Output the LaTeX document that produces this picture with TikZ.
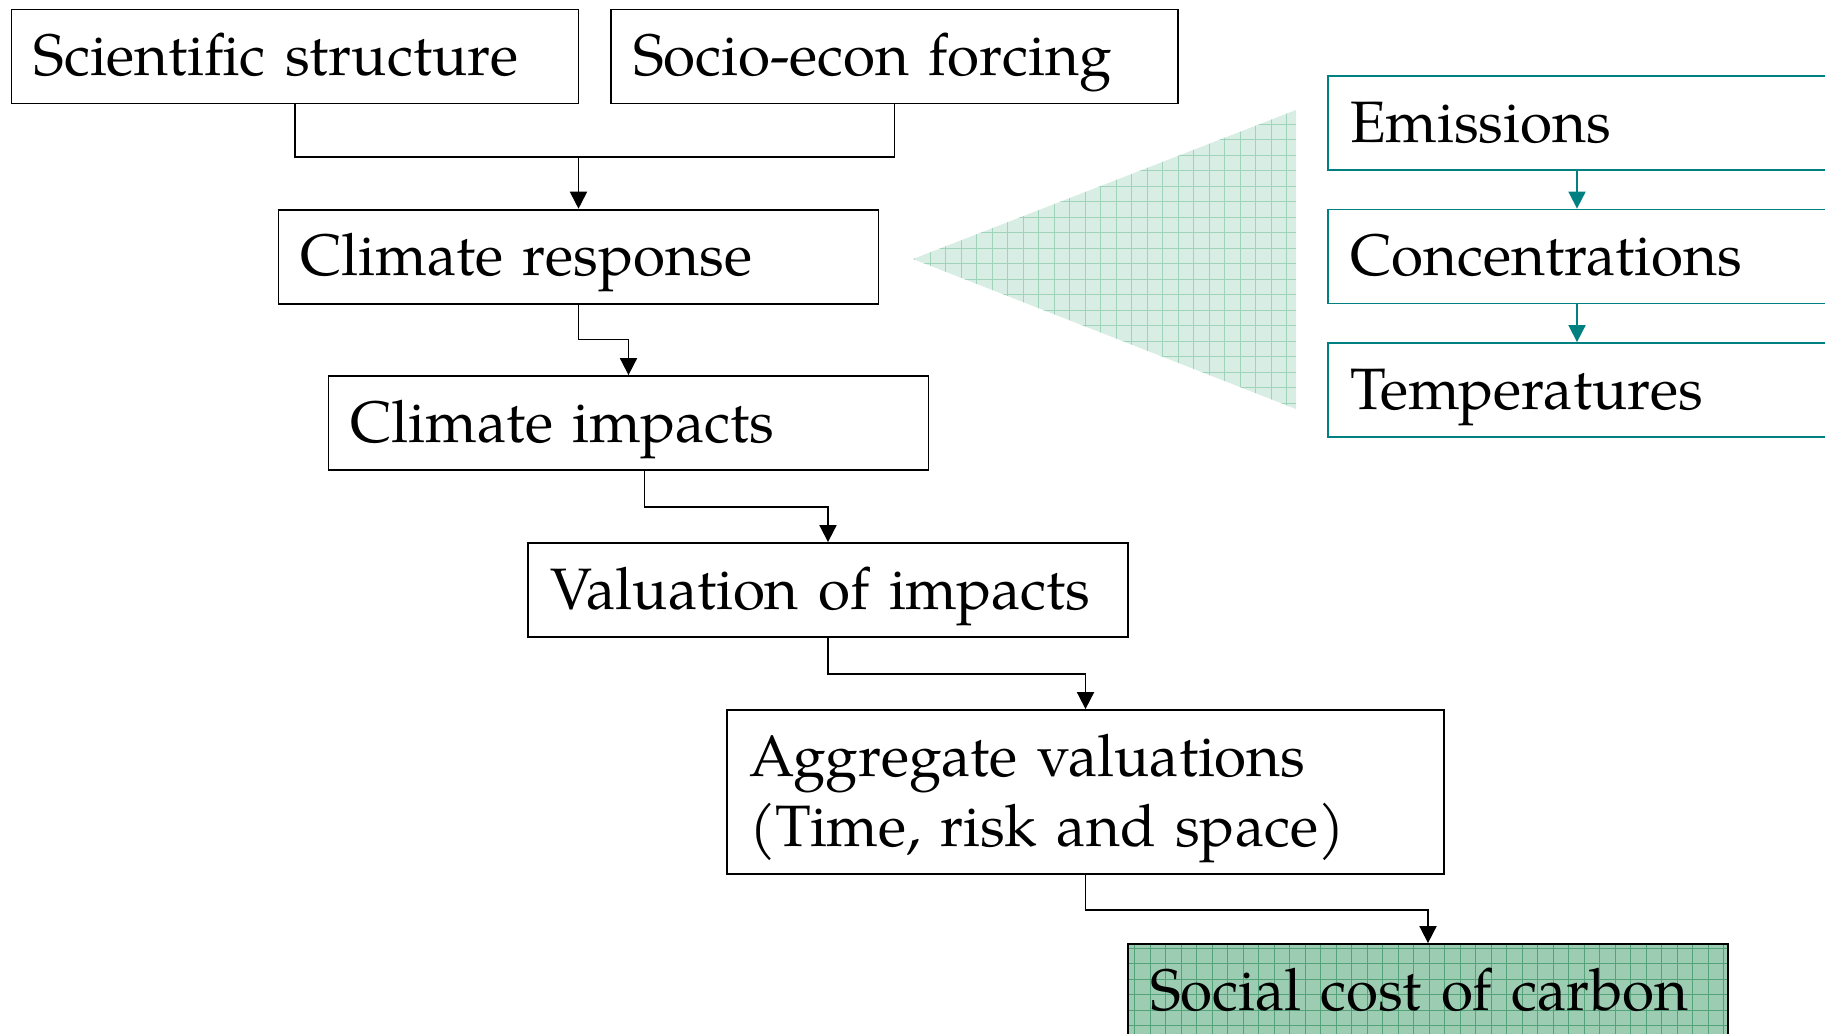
\documentclass[tikz,border=0pt]{standalone}
\usepackage{fontspec}
\setmainfont{TeX Gyre Pagella}
\usetikzlibrary{arrows.meta, positioning}
\definecolor{myteal}{RGB}{0,128,128}
\definecolor{mypalegreen}{RGB}{216,237,227}
\definecolor{mypalegreengrid}{RGB}{160,212,186}
\definecolor{mygreen}{RGB}{156,205,178}
\definecolor{mygreengrid}{RGB}{84,162,122}

\begin{document}
\begin{tikzpicture}[x=0.5pt, y=-0.5pt,
  block/.style={draw, line width=0.9pt, inner xsep=11pt, minimum height=47pt, text width=278pt, align=left, text height=24pt, text depth=5pt, font=\fontsize{29.2}{35}\selectfont},
  tealblock/.style={block, draw=myteal},
  flow/.style={line width=0.9pt, -{Triangle[width=8.5pt,length=8.5pt]}},
  tealflow/.style={flow, myteal},
  gridded/.style={fill=#1, path picture={\draw[#1grid, line width=0.3pt, step=7.75pt] (path picture bounding box.south west) grid (path picture bounding box.north east);}}]
  \useasboundingbox (0,0) rectangle (1825,1033);
  \clip (0,0) rectangle (1825,1033);

  % Inputs
  \node (science) at (295,56.5) [block, text width=261.5pt] {Scientific structure};
  \node (socio) at (894.5,56.5) [block, text width=261.5pt] {Socio-econ forcing};

  % Chain of steps
  \node (response) at (578.5,256.6) [block] {Climate response};
  \node (impacts) at (628.5,423) [block] {Climate impacts};
  \node (valuation) at (828,590) [block] {Valuation of impacts};
  \node (aggregate) at (1085.5,792) [block, text width=336.5pt, minimum height=82pt, text depth=40pt] {Aggregate valuations\\(Time, risk and space)};

  % Result
  \node (carbon) at (1428,991) [block, gridded=mygreen] {Social cost of carbon};

  % Zoom wedge
  \path[gridded=mypalegreen] (913,259) -- (1296,110) -- (1296,409) -- cycle;

  % Climate module
  \node (emissions) at (1628,123) [tealblock] {Emissions};
  \node (concentrations) at (1628,256.5) [tealblock] {Concentrations};
  \node (temperatures) at (1628,390) [tealblock] {Temperatures};
  \coordinate (tealx) at (1577,0);
  \draw[tealflow] (emissions.south -| tealx) -- (concentrations.north -| tealx);
  \draw[tealflow] (concentrations.south -| tealx) -- (temperatures.north -| tealx);

  % Inputs to climate response
  \draw[line width=0.9pt] (science.south) -- ++(0,52.5) -| (socio.south);
  \coordinate (join) at (578.5,156);
  \draw[flow] (join) -- (response.north);

  % Step arrows
  \draw[flow] (response.south) -- ++(0,35) -| (impacts.north);
  \draw[flow] ([xshift=8pt]impacts.south) -- ++(0,36) -| (valuation.north);
  \draw[flow] (valuation.south) -- ++(0,36) -| (aggregate.north);
  \draw[flow] (aggregate.south) -- ++(0,35) -| (carbon.north);
\end{tikzpicture}
\end{document}
